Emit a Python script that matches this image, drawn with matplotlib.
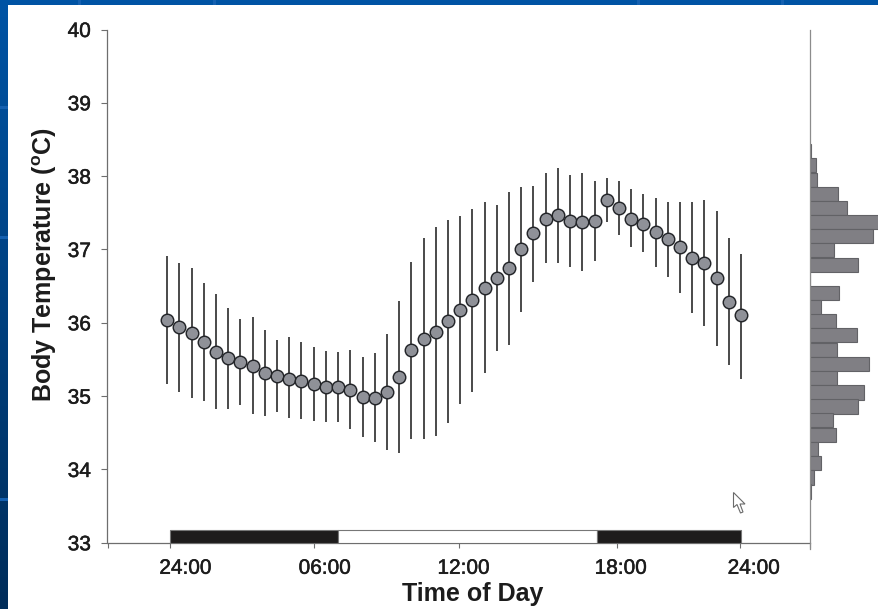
import numpy as np
import matplotlib
matplotlib.use("Agg")
import matplotlib.pyplot as plt
import matplotlib.patheffects as pe
from matplotlib.patches import Polygon, Rectangle

plt.rcParams['font.family'] = ['Liberation Sans', 'DejaVu Sans']
plt.rcParams['mathtext.fontset'] = 'custom'
plt.rcParams['mathtext.rm'] = 'Liberation Sans'
plt.rcParams['mathtext.bf'] = 'Liberation Sans:bold'

# half-hour slots across the day
slots = list(range(48))
temp_mean = [36.04, 35.94, 35.86, 35.74, 35.60, 35.52, 35.46, 35.41, 35.31, 35.27, 35.24, 35.21,
             35.16, 35.13, 35.12, 35.09, 34.99, 34.98, 35.06, 35.26, 35.63, 35.78, 35.88, 36.02,
             36.17, 36.31, 36.48, 36.61, 36.75, 37.00, 37.22, 37.42, 37.47, 37.39, 37.38, 37.39,
             37.68, 37.57, 37.42, 37.35, 37.24, 37.14, 37.03, 36.89, 36.81, 36.61, 36.28, 36.10]
temp_upper = [36.91, 36.82, 36.75, 36.54, 36.39, 36.20, 36.05, 36.08, 35.90, 35.77, 35.80, 35.74,
              35.67, 35.61, 35.60, 35.63, 35.54, 35.59, 35.85, 36.30, 36.83, 37.15, 37.30, 37.40,
              37.46, 37.55, 37.65, 37.61, 37.79, 37.85, 37.87, 38.04, 38.11, 38.02, 38.04, 37.94,
              37.98, 37.94, 37.82, 37.75, 37.70, 37.65, 37.65, 37.65, 37.67, 37.53, 37.15, 36.94]
temp_lower = [35.17, 35.05, 34.97, 34.94, 34.83, 34.82, 34.88, 34.75, 34.73, 34.78, 34.70, 34.69,
              34.66, 34.65, 34.65, 34.55, 34.44, 34.38, 34.26, 34.23, 34.42, 34.41, 34.46, 34.64,
              34.89, 35.06, 35.31, 35.61, 35.70, 36.15, 36.56, 36.81, 36.82, 36.76, 36.71, 36.84,
              37.38, 37.20, 37.03, 36.96, 36.76, 36.63, 36.40, 36.13, 35.96, 35.69, 35.42, 35.24]

hist_centers = [38.34, 38.15, 37.95, 37.76, 37.57, 37.37, 37.18, 36.99, 36.79, 36.60, 36.41, 36.21, 36.02,
                35.83, 35.63, 35.44, 35.25, 35.05, 34.86, 34.67, 34.47, 34.28, 34.09, 33.89, 33.70]
hist_counts = [1, 6.3, 7, 28, 36.7, 69, 63, 24, 48, 0, 29.3, 10.7, 26.3,
               47.3, 27.3, 59, 27.3, 54.3, 48.3, 23.3, 25.7, 7.7, 11, 4, 0.7]

y_ticks = [33, 34, 35, 36, 37, 38, 39, 40]
x_tick_slots = [-4.89, 0.23, 12.0, 23.9, 36.85, 46.95, 52.65]
x_label_slots = [1.50, 12.92, 24.28, 37.16, 48.05]
x_tick_labels = ['24:00', '06:00', '12:00', '18:00', '24:00']
phase_starts = [0.23, 14.02, 35.18]
phase_ends = [14.02, 35.18, 46.98]
phase_colors = ['#1e1c1c', '#ffffff', '#1e1c1c']

W, H = 879, 609
fig = plt.figure(figsize=(W / 100, H / 100), dpi=100)

# slide background
bg = fig.add_axes([0, 0, 1, 1], zorder=0)
bg.axis('off')
grad = np.linspace(0, 1, 256)[:, None, None] * (np.array([0, 45, 90]) - np.array([0, 84, 165])) + np.array([0, 84, 165])
bg.imshow(grad / 255, aspect='auto', extent=[0, W, H, 0], interpolation='bilinear')
bg.set_xlim(0, W); bg.set_ylim(H, 0)
for sx in (80, 215, 639, 783):
    bg.add_patch(Rectangle((sx - 1.5, 0), 3, 5, fc='#1560b0', ec='none'))
for sy in (107, 237, 499):
    bg.add_patch(Rectangle((0, sy - 1.5), 8, 3, fc='#1560b0', ec='none'))
bg.add_patch(Rectangle((8, 5), W - 8, H - 5, fc='white', ec='none'))

def rect(l, t, r, b):
    return [l / W, 1 - b / H, (r - l) / W, (b - t) / H]

AXC = '#6e6e6e'
INK = '#1c1c1c'
stroke = [pe.withStroke(linewidth=0.35, foreground=INK)]

ax = fig.add_axes(rect(107.5, 29.5, 810, 542.8), zorder=2)
ax.patch.set_alpha(0)
ax.set_xlim(-4.89, 52.65)
ax.set_ylim(33, 40)
for s in ('top', 'right'):
    ax.spines[s].set_visible(False)
for s in ('left', 'bottom'):
    ax.spines[s].set_color(AXC)
    ax.spines[s].set_linewidth(0.9)
ax.set_yticks(y_ticks)
ax.set_xticks(x_tick_slots, [''] * len(x_tick_slots))
ax.set_xticks(x_label_slots, x_tick_labels, minor=True)
ax.tick_params(axis='y', length=4.4, width=0.8, color=AXC, labelsize=15, labelcolor=INK, pad=7.5)
ax.tick_params(axis='x', which='major', length=3.6, width=0.8, color=AXC)
ax.tick_params(axis='x', which='minor', length=0, labelsize=15, labelcolor=INK, pad=11.5)
for t in ax.get_yticklabels() + ax.get_xticklabels(minor=True):
    t.set_path_effects(stroke)

ax.barh([33] * 3, np.array(phase_ends) - np.array(phase_starts), left=phase_starts, height=0.172,
        align='edge', color=phase_colors, edgecolor='#777777', linewidth=0.8, zorder=3)

ax.vlines(slots, temp_lower, temp_upper, color='#3c3c3c', linewidth=1.3, zorder=4)
ax.plot(slots, temp_mean, ls='none', marker='o', ms=9.0, mfc='#8f9198', mec='#24262a', mew=1.05, zorder=5)

fig.text(472.5 / W, 1 - 594 / H, 'Time of Day', fontsize=18, fontweight='bold', color=INK,
         ha='center', va='center')
fig.text(44.5 / W, 1 - 265 / H, r'Body Temperature ($^{\mathbf{o}}$C)', fontsize=18, fontweight='bold',
         color=INK, rotation=90, ha='center', va='center')

# marginal histogram
hx = fig.add_axes(rect(810, 29.5, 879, 542.8), zorder=3)
hx.patch.set_alpha(0)
hx.set_ylim(33, 40)
hx.set_xlim(0, 69)
for s in ('top', 'right', 'bottom'):
    hx.spines[s].set_visible(False)
hx.spines['left'].set_color('#8c8c8c')
hx.spines['left'].set_linewidth(0.9)
hx.spines['left'].set_bounds(32.92, 40)
hx.set_xticks([]); hx.set_yticks([])
hx.barh(hist_centers, hist_counts, height=0.1936, color='#807f84', edgecolor='#626266', linewidth=0.8)

# mouse pointer captured in the slide
cursor = [(733.5, 492.5), (733.5, 507.5), (737, 504.5), (740.5, 513), (743, 512), (740, 504), (745, 504)]
fig.add_artist(Polygon([(x / W, 1 - y / H) for x, y in cursor], closed=True, fc='white', ec='#6a6a6a',
                       lw=0.8, transform=fig.transFigure, zorder=6))

fig.savefig('out.png', dpi=100)
